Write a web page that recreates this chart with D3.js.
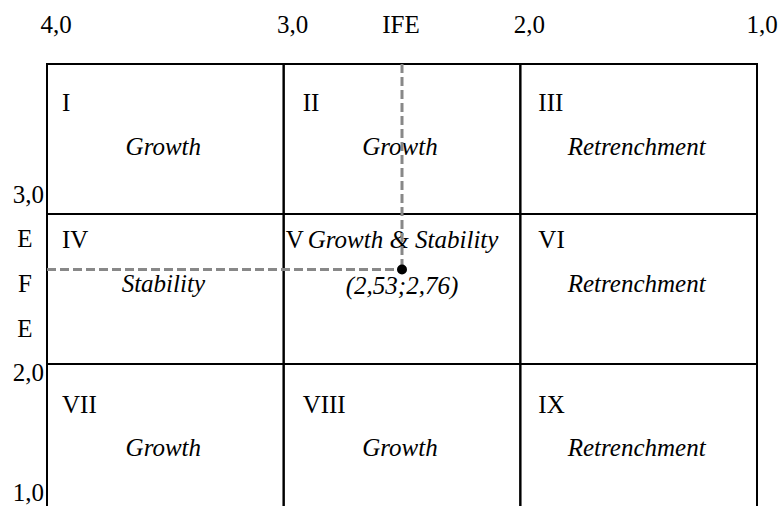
<!DOCTYPE html>
<html>
<head>
<meta charset="utf-8">
<script src="https://cdn.jsdelivr.net/npm/d3@7"></script>
<style>
  body { margin: 0; background: #fff; }
</style>
</head>
<body>
<svg id="chart" width="779" height="506"></svg>
<script>
// IFE (x) and EFE (y) ticks
var ifeTicks = [4, 3, 2, 1];
var efeTicks = [3, 2, 1];
var efeLetters = ["E", "F", "E"];

// cells, row by row from top left
var cellNumbers = ["I", "II", "III", "IV", "V", "VI", "VII", "VIII", "IX"];
var cellStrategies = ["Growth", "Growth", "Retrenchment", "Stability", "Growth & Stability", "Retrenchment", "Growth", "Growth", "Retrenchment"];

// company position (as drawn) and its label
var point = { ife: 2.50, efe: 2.63 };
var pointLabel = "(2,53;2,76)";

var svg = d3.select("#chart");

function serif(sel) {
  return sel.style("font-family", "'Liberation Serif', serif").style("font-size", "25px").attr("fill", "#000");
}

var x = d3.scaleLinear().domain([4, 1]).range([47, 757]);
var y = d3.scaleLinear().domain([4, 1]).range([64, 514]);

var fmt = function (v) { return d3.format(".1f")(v).replace(".", ","); };

// grid
var cols = [[4, 3], [3, 2], [2, 1]];
var rows = [[4, 3], [3, 2], [2, 1]];
var cells = [];
rows.forEach(function (r, ri) {
  cols.forEach(function (c, ci) {
    cells.push({ x0: c[0], x1: c[1], y0: r[0], y1: r[1], i: ri * 3 + ci, row: ri, col: ci });
  });
});

svg.selectAll("rect.cell")
  .data(cells)
  .enter().append("rect")
  .attr("class", "cell")
  .attr("x", d => x(d.x0))
  .attr("y", d => y(d.y0))
  .attr("width", d => x(d.x1) - x(d.x0))
  .attr("height", d => y(d.y1) - y(d.y0))
  .attr("fill", "none")
  .attr("stroke", "#000")
  .attr("stroke-width", 2);

// text offsets inside the cells differ a little per row / column
var numDy = [47, 34, 49];
var stratDy = [91, 78, 92];
var numDx = [15, 19, 18];

// roman numerals
serif(svg.selectAll("text.num")
  .data(cells)
  .enter().append("text"))
  .attr("class", "num")
  .attr("x", d => x(d.x0) + (d.i == 4 ? 2 : numDx[d.col]))
  .attr("y", d => y(d.y0) + numDy[d.row])
  .text(d => cellNumbers[d.i]);

// strategy names
serif(svg.selectAll("text.strat")
  .data(cells)
  .enter().append("text"))
  .attr("class", "strat")
  .style("font-style", "italic")
  .attr("text-anchor", d => d.i == 4 ? "start" : "middle")
  .attr("x", d => d.i == 4 ? x(d.x0) + 24 : (x(d.x0) + x(d.x1)) / 2 - 2)
  .attr("y", d => y(d.y0) + (d.i == 4 ? numDy[d.row] : stratDy[d.row]))
  .text(d => cellStrategies[d.i]);

// dashed guides to the point
svg.append("line")
  .attr("x1", x(4)).attr("x2", x(point.ife))
  .attr("y1", y(point.efe)).attr("y2", y(point.efe))
  .attr("stroke", "#888").attr("stroke-width", 3).attr("stroke-dasharray", "9,4");
svg.append("line")
  .attr("x1", x(point.ife)).attr("x2", x(point.ife))
  .attr("y1", y(4)).attr("y2", y(point.efe))
  .attr("stroke", "#888").attr("stroke-width", 3).attr("stroke-dasharray", "9,4");

svg.append("circle")
  .attr("cx", x(point.ife)).attr("cy", y(point.efe))
  .attr("r", 5).attr("fill", "#000");

serif(svg.append("text"))
  .style("font-style", "italic")
  .attr("text-anchor", "middle")
  .attr("x", x(point.ife))
  .attr("y", y(point.efe) + 24)
  .text(pointLabel);

// top axis labels
serif(svg.selectAll("text.xt")
  .data(ifeTicks)
  .enter().append("text"))
  .attr("class", "xt")
  .attr("text-anchor", "middle")
  .attr("x", d => x(d) + (d == 1 ? 5 : 9))
  .attr("y", 33)
  .text(fmt);

serif(svg.append("text"))
  .attr("text-anchor", "middle")
  .attr("x", 401).attr("y", 33)
  .text("IFE");

// left axis labels
serif(svg.selectAll("text.yt")
  .data(efeTicks)
  .enter().append("text"))
  .attr("class", "yt")
  .attr("text-anchor", "end")
  .attr("x", 44)
  .attr("y", d => d == 2 ? y(d) + 17 : d == 1 ? y(d) - 13 : y(d) - 11)
  .text(fmt);

serif(svg.selectAll("text.yl")
  .data(efeLetters)
  .enter().append("text"))
  .attr("class", "yl")
  .attr("text-anchor", "middle")
  .attr("x", 25)
  .attr("y", (d, i) => y(3) + 33 + i * 45)
  .text(d => d);
</script>
</body>
</html>
